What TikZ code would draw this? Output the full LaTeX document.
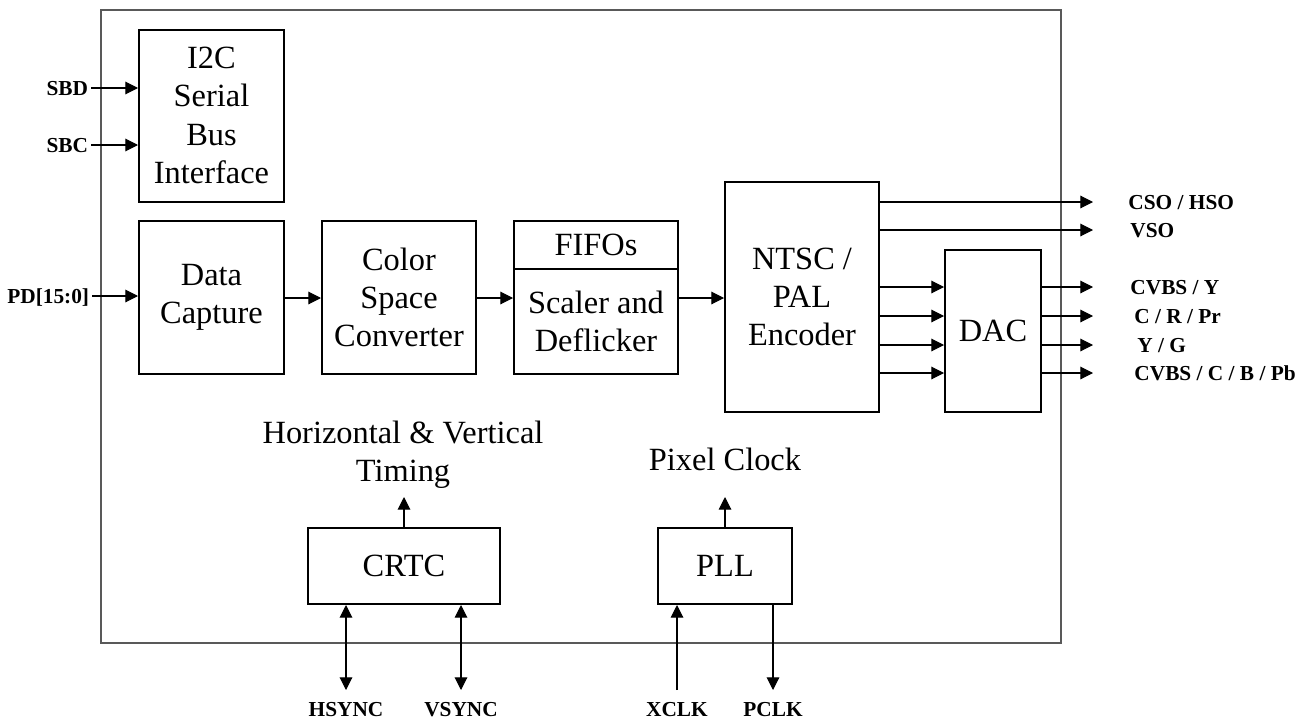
\documentclass[tikz,border=0pt]{standalone}
\usepackage{fontspec}
\setmainfont{Liberation Serif}
\usetikzlibrary{arrows.meta}
\begin{document}
\begin{tikzpicture}[x=0.75pt,y=-0.75pt,
  blk/.style={draw, line width=1.5pt, align=center, inner sep=0pt, font=\fontsize{24.3}{28.8}\selectfont},
  lbl/.style={font=\fontsize{24.3}{28.8}\selectfont, align=center, inner sep=0pt},
  sig/.style={font=\fontsize{16}{18}\selectfont\bfseries, inner xsep=2pt, inner ysep=0pt, text height=10.5pt, text depth=0pt},
  conn/.style={line width=0.8pt, -{Triangle[length=9.5pt,width=9.5pt]}},
  bconn/.style={line width=0.8pt, {Triangle[length=9.5pt,width=9.5pt]}-{Triangle[length=9.5pt,width=9.5pt]}},
  frame/.style={draw=black!65, line width=1.1pt, inner sep=0pt}
]
\useasboundingbox (0,0) rectangle (1307,721);

% outer chip frame
\node[frame, minimum width={960*0.75pt}, minimum height={633*0.75pt}] (chip) at (581,326.5) {};

% blocks
\node[blk, minimum width={145*0.75pt}, minimum height={172*0.75pt}] (i2c) at (211.5,115.5) {I2C\\Serial\\Bus\\Interface};
\node[blk, minimum width={145*0.75pt}, minimum height={153*0.75pt}] (cap) at (211.5,297.5) {Data\\Capture};
\node[blk, minimum width={154*0.75pt}, minimum height={153*0.75pt}] (csc) at (399,297.5) {Color\\Space\\Converter};
\node[blk, minimum width={164*0.75pt}, minimum height={48*0.75pt}] (fifo) at (596,245) {FIFOs};
\node[blk, minimum width={164*0.75pt}, minimum height={105*0.75pt}] (scl) at (596,321.5) {Scaler and\\Deflicker};
\node[blk, minimum width={154*0.75pt}, minimum height={230*0.75pt}] (ntsc) at (802,297) {NTSC /\\PAL\\Encoder};
\node[blk, minimum width={96*0.75pt}, minimum height={162*0.75pt}] (dac) at (993,331) {DAC};
\node[blk, minimum width={192*0.75pt}, minimum height={76*0.75pt}] (crtc) at (404,566) {CRTC};
\node[blk, minimum width={134*0.75pt}, minimum height={76*0.75pt}] (pll) at (725,566) {PLL};

% left signals
\node[sig, anchor=east] (sbd) at (91,88) {SBD};
\node[sig, anchor=east] (sbc) at (91,145) {SBC};
\node[sig, anchor=east] (pd) at (92,296) {PD[15:0]};
\draw[conn] (sbd.east) -- (sbd.east -| i2c.west);
\draw[conn] (sbc.east) -- (sbc.east -| i2c.west);
\draw[conn] (pd.east) -- (pd.east -| cap.west);

% data path
\draw[conn] (cap.east |- 0,298) -- (csc.west |- 0,298);
\draw[conn] (csc.east |- 0,298) -- (scl.west |- 0,298);
\draw[conn] (scl.east |- 0,298) -- (ntsc.west |- 0,298);

% outputs
\coordinate (oA) at (1093,202);
\coordinate (oB) at (1093,230);
\coordinate (o1) at (1093,287);
\coordinate (o2) at (1093,316);
\coordinate (o3) at (1093,345);
\coordinate (o4) at (1093,373);
\draw[conn] (ntsc.east |- oA) -- (oA);
\draw[conn] (ntsc.east |- oB) -- (oB);
\foreach \o in {o1,o2,o3,o4}{
  \draw[conn] (ntsc.east |- \o) -- (dac.west |- \o);
  \draw[conn] (dac.east |- \o) -- (\o);
}
\node[sig, anchor=west] (lA) at (1125.5,202) {CSO / HSO};
\node[sig, anchor=west] (lB) at (1127.5,230) {VSO};
\node[sig, anchor=west] (l1) at (1127.5,287) {CVBS / Y};
\node[sig, anchor=west] (l2) at (1131.5,316) {C / R / Pr};
\node[sig, anchor=west] (l3) at (1134.5,345) {Y / G};
\node[sig, anchor=west] (l4) at (1131.5,373) {CVBS / C / B / Pb};

% CRTC
\node[lbl] (hvt) at (403,455) {Horizontal \& Vertical\\Timing};
\coordinate (crtcUp) at (404,497);
\draw[conn] (crtc.north) -- (crtcUp);
\coordinate (hsE) at (346,690);
\coordinate (vsE) at (461,690);
\draw[bconn] (crtc.south -| hsE) -- (hsE);
\draw[bconn] (crtc.south -| vsE) -- (vsE);
\node[sig] (hs) at (346,709) {HSYNC};
\node[sig] (vs) at (461,709) {VSYNC};

% PLL
\node[lbl] (pxc) at (725,459) {Pixel Clock};
\coordinate (pllUp) at (725,497);
\draw[conn] (pll.north) -- (pllUp);
\coordinate (xcE) at (677,690);
\coordinate (pcE) at (773,690);
\draw[conn] (xcE) -- (pll.south -| xcE);
\draw[conn] (pll.south -| pcE) -- (pcE);
\node[sig] (xc) at (677,709) {XCLK};
\node[sig] (pc) at (773,709) {PCLK};
\end{tikzpicture}
\end{document}
